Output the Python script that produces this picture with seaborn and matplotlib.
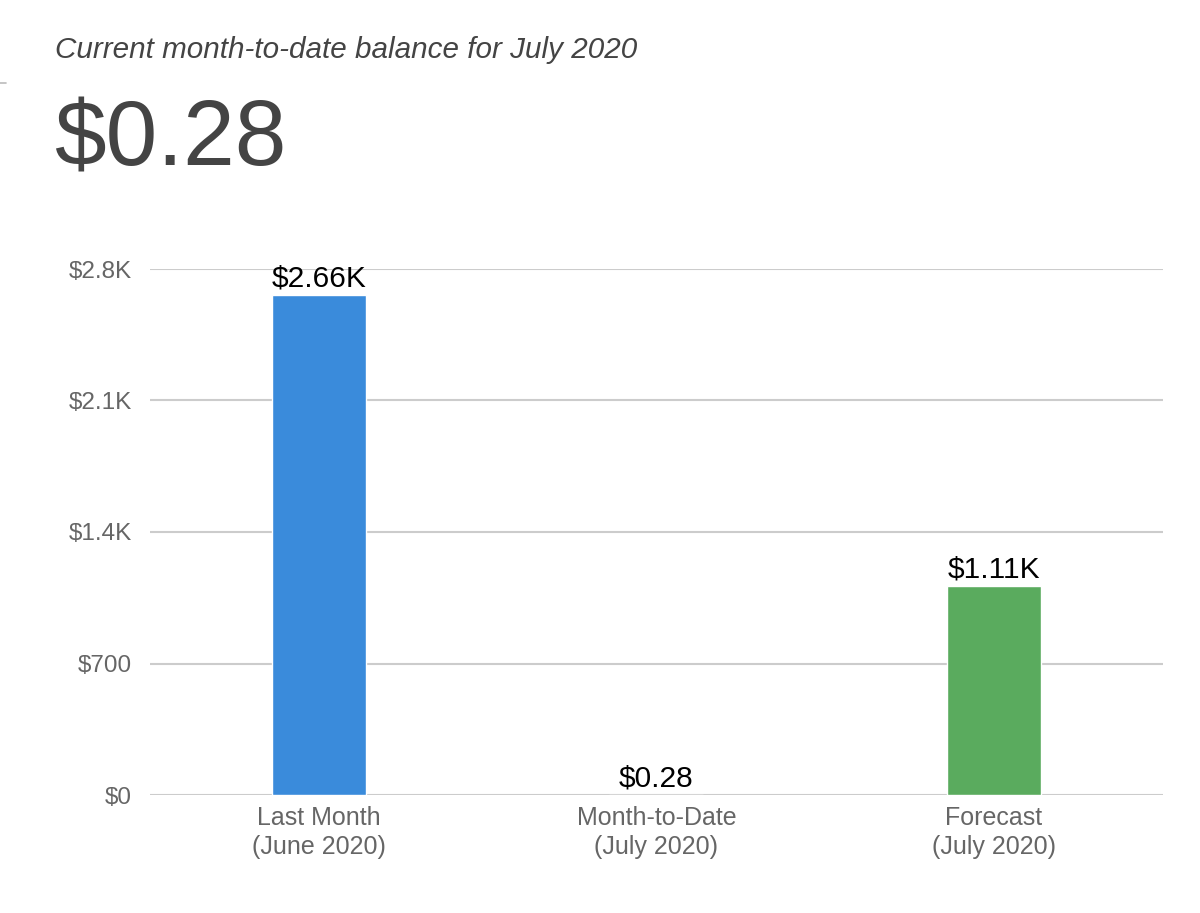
import matplotlib
matplotlib.use("Agg")
import matplotlib.pyplot as plt
import seaborn as sns
import pandas as pd
from matplotlib.lines import Line2D

categories = ["Last Month\n(June 2020)", "Month-to-Date\n(July 2020)", "Forecast\n(July 2020)"]
values = [2660, 0.28, 1110]
bar_labels = ["$2.66K", "$0.28", "$1.11K"]
colors = ["#3A8BDB", "#E8A33D", "#5AAB5E"]
yticks = [0, 700, 1400, 2100, 2800]
ytick_labels = ["$0", "$700", "$1.4K", "$2.1K", "$2.8K"]
title = "Current month-to-date balance for July 2020"
headline = "$0.28"

sns.set_theme(style="white")
plt.rcParams['font.family'] = ['Liberation Sans', 'DejaVu Sans']

df = pd.DataFrame({"category": categories, "value": values})

fig = plt.figure(figsize=(12, 9.13), dpi=100)
ax = fig.add_axes([0.125, 1 - 795 / 913, 0.969 - 0.125, (795 - 269) / 913])

sns.barplot(data=df, x="category", y="value", hue="category", palette=colors,
            legend=False, width=0.278, ax=ax, saturation=1, zorder=3)

ax.set_ylim(0, 2800)
ax.set_xlim(-0.5, 2.5)
ax.set_yticks(yticks)
ax.set_yticklabels(ytick_labels)
ax.yaxis.grid(True, color="#CCCCCC", linewidth=1.5, zorder=0)
ax.set_axisbelow(True)
for s in ax.spines.values():
    s.set_visible(False)
ax.set_xlabel("")
ax.set_ylabel("")
ax.tick_params(axis="y", length=0, pad=13, labelsize=17.5, labelcolor="#666666")
ax.tick_params(axis="x", length=0, pad=8, labelsize=18, labelcolor="#666666")
for t in ax.get_xticklabels():
    t.set_linespacing(1.25)

for cont, lab in zip(ax.containers, bar_labels):
    ax.bar_label(cont, labels=[lab], padding=2, fontsize=21.5, color="#000000", clip_on=False)

fig.text(55 / 1200, 1 - 50 / 913, title, fontsize=21.3, style="italic", color="#444444",
         ha="left", va="center")
fig.text(54 / 1200, 1 - 141 / 913, headline, fontsize=67, color="#444444",
         ha="left", va="center")
fig.add_artist(Line2D([0, 6 / 1200], [1 - 83 / 913, 1 - 83 / 913], color="#BBBBBB",
                      linewidth=1.2, transform=fig.transFigure))

fig.savefig("out.png", dpi=100, facecolor="white")
